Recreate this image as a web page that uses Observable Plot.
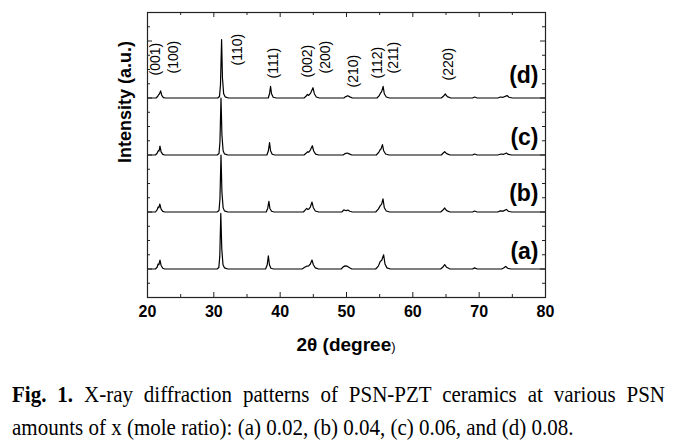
<!DOCTYPE html>
<html><head><meta charset="utf-8">
<script src="https://cdn.jsdelivr.net/npm/d3@7"></script>
<script src="https://cdn.jsdelivr.net/npm/@observablehq/plot@0.6"></script>
<style>
body{margin:0;background:#fff;width:677px;height:444px;overflow:hidden;position:relative;font-family:"Liberation Sans",Arial,sans-serif}
#chart{position:absolute;left:0;top:0}
#xtitle{position:absolute;left:346px;top:334px;transform:translateX(-50%);font-size:19px;line-height:22px;font-weight:bold;white-space:nowrap;color:#000}
#xtitle .s{font-size:13px;font-weight:normal}
.cap{position:absolute;left:12px;width:653px;font-family:"Liberation Serif","Times New Roman",serif;font-size:21px;line-height:29px;color:#000;white-space:nowrap;transform:scaleY(1.14);transform-origin:0 50%}
#cap1{top:380px;text-align:justify;text-align-last:justify;white-space:normal}
#cap2{top:413px}
</style></head><body>
<div id="chart"></div>
<div id="xtitle">2θ (degree<span class="s">)</span></div>
<div class="cap" id="cap1"><b>Fig. 1.</b> X-ray diffraction patterns of PSN-PZT ceramics at various PSN</div>
<div class="cap" id="cap2">amounts of x (mole ratio): (a) 0.02, (b) 0.04, (c) 0.06, and (d) 0.08.</div>
<script>
// Series names and vertical offsets (intensity units)
const seriesNames = ["(a)", "(b)", "(c)", "(d)"];
const seriesOffsets = [2, 6, 10, 14];
const seriesLabelY = [3.25, 7.3, 11.2, 15.55];
const seriesLabelX = 78.95;

// [2θ, relative intensity]
const patternA = [[20,0],[21.2,0],[21.45,0.12],[21.6,0.35],[21.72,0.3],[21.88,0.63],[22.05,0.25],[22.3,0.05],[22.6,0],
[30.5,0],[30.75,0.1],[30.9,0.9],[31.05,3.9],[31.2,1.4],[31.38,0.3],[31.6,0.08],[32.1,0],
[37.8,0],[38.05,0.3],[38.22,0.93],[38.38,0.3],[38.6,0.05],[39,0],
[43.3,0],[43.7,0.12],[44.0,0.2],[44.3,0.22],[44.55,0.35],[44.8,0.63],[45.0,0.3],[45.3,0.08],[45.8,0],
[49.2,0],[49.5,0.15],[49.8,0.22],[50.1,0.2],[50.4,0.1],[50.8,0],
[54.4,0],[54.8,0.2],[55.1,0.55],[55.3,0.6],[55.6,1.0],[55.8,0.35],[56.1,0.08],[56.6,0],
[64.2,0],[64.5,0.12],[64.8,0.3],[65.1,0.12],[65.6,0],
[69,0],[69.3,0.08],[69.7,0],
[73.4,0],[73.8,0.1],[74.0,0.18],[74.3,0.05],[74.8,0],[80,0]];

const patternB = [[20,0],[21.2,0],[21.45,0.15],[21.6,0.35],[21.72,0.3],[21.86,0.56],[22.05,0.2],[22.3,0.04],[22.6,0],
[30.5,0],[30.78,0.1],[30.92,0.9],[31.08,4.0],[31.22,1.4],[31.4,0.3],[31.6,0.08],[32.1,0],
[37.9,0],[38.12,0.25],[38.3,0.75],[38.45,0.25],[38.7,0.05],[39.1,0],
[43.5,0],[43.8,0.15],[44.0,0.25],[44.15,0.18],[44.3,0.2],[44.55,0.35],[44.8,0.7],[45.0,0.3],[45.3,0.07],[45.8,0],
[49.3,0],[49.6,0.15],[49.8,0.12],[50.0,0.1],[50.2,0.14],[50.5,0.05],[50.9,0],
[54.4,0],[54.8,0.2],[55.1,0.45],[55.3,0.55],[55.5,0.92],[55.7,0.3],[56.0,0.07],[56.5,0],
[64.2,0],[64.5,0.12],[64.8,0.28],[65.1,0.1],[65.6,0],
[69,0],[69.3,0.07],[69.7,0],
[72.8,0],[73.2,0.08],[73.6,0.06],[74.1,0.18],[74.4,0.05],[74.9,0],[80,0]];

const patternC = [[20,0],[21.2,0],[21.45,0.12],[21.62,0.3],[21.74,0.28],[21.88,0.63],[22.05,0.22],[22.3,0.04],[22.6,0],
[30.5,0],[30.78,0.1],[30.92,0.9],[31.08,4.0],[31.22,1.4],[31.4,0.3],[31.6,0.08],[32.1,0],
[38.0,0],[38.22,0.3],[38.4,0.87],[38.55,0.3],[38.8,0.05],[39.2,0],
[43.6,0],[43.9,0.12],[44.1,0.22],[44.3,0.2],[44.55,0.35],[44.85,0.65],[45.05,0.28],[45.35,0.06],[45.8,0],
[49.5,0],[49.8,0.1],[50.1,0.14],[50.4,0.08],[50.8,0],
[54.5,0],[54.85,0.18],[55.05,0.35],[55.2,0.42],[55.42,0.73],[55.6,0.3],[55.9,0.07],[56.4,0],
[64.3,0],[64.55,0.12],[64.8,0.23],[65.1,0.1],[65.6,0],
[69,0],[69.3,0.07],[69.7,0],
[72.8,0],[73.3,0.07],[73.7,0.05],[74.1,0.14],[74.4,0.04],[74.9,0],[80,0]];

const patternD = [[20,0],[21.3,0],[21.55,0.12],[21.7,0.25],[21.8,0.28],[21.98,0.5],[22.15,0.18],[22.4,0.03],[22.7,0],
[30.6,0],[30.85,0.1],[31.0,0.9],[31.17,4.1],[31.3,1.4],[31.48,0.3],[31.7,0.08],[32.2,0],
[38.2,0],[38.4,0.3],[38.55,0.82],[38.7,0.3],[38.95,0.05],[39.4,0],
[43.6,0],[43.9,0.12],[44.1,0.25],[44.3,0.18],[44.6,0.35],[44.95,0.72],[45.15,0.3],[45.45,0.07],[45.9,0],
[49.6,0],[49.9,0.1],[50.2,0.16],[50.5,0.08],[50.9,0],
[54.6,0],[54.9,0.15],[55.1,0.32],[55.3,0.45],[55.52,0.82],[55.7,0.3],[56.0,0.07],[56.5,0],
[64.3,0],[64.6,0.12],[64.9,0.28],[65.2,0.1],[65.7,0],
[69,0],[69.3,0.07],[69.7,0],
[72.8,0],[73.2,0.07],[73.6,0.05],[74.2,0.17],[74.5,0.05],[75,0],[80,0]];

// Miller index labels above pattern (d)
const hklLabels = ["(001)","(100)","(110)","(111)","(002)","(200)","(210)","(112)","(211)","(220)"];
const hklX = [21.2, 23.9, 33.6, 39.0, 44.1, 46.8, 51.1, 54.7, 57.1, 65.4];
const hklY = [15.58, 15.72, 16.28, 15.37, 15.44, 15.72, 14.74, 15.37, 15.72, 15.23];

// Axis ticks
const xTicks = [20, 30, 40, 50, 60, 70, 80];
const xMinor = [25, 35, 45, 55, 65, 75];
const yMajor = [2, 6, 10, 14, 18];
const yMinor = d3.range(0, 21).filter(v => !yMajor.includes(v));

const patterns = [patternA, patternB, patternC, patternD];
const rows = patterns.flatMap((p, i) => p.map(([t, v]) => ({series: seriesNames[i], t, v: v + seriesOffsets[i]})));
const hkl = hklLabels.map((l, i) => ({l, x: hklX[i], y: hklY[i]}));
const sLabels = seriesNames.map((n, i) => ({n, x: seriesLabelX, y: seriesLabelY[i]}));

const W = 677, H = 362, mL = 147, mR = 132, mT = 12, mB = 65;
const fw = W - mL - mR, fh = H - mT - mB;
const tickStyle = {stroke: "#222", strokeWidth: 1};

const chart = Plot.plot({
  width: W, height: H,
  marginLeft: mL, marginRight: mR, marginTop: mT, marginBottom: mB,
  style: {fontFamily: "'Liberation Sans', Arial, sans-serif", background: "#fff", color: "#000"},
  x: {domain: [20, 80]},
  y: {domain: [0, 20], axis: null},
  marks: [
    Plot.line(rows, {x: "t", y: "v", z: "series", stroke: "#000", strokeWidth: 1.2}),
    Plot.frame({stroke: "#222", strokeWidth: 1.2}),
    Plot.axisX({anchor: "bottom", ticks: xTicks, tickSize: 0, tickPadding: 8, label: null, fontSize: 16, fontWeight: "bold"}),
    // inward ticks on all four sides
    Plot.tickX(xTicks, {x: d => d, insetTop: fh - 5, ...tickStyle}),
    Plot.tickX(xMinor, {x: d => d, insetTop: fh - 3, ...tickStyle}),
    Plot.tickX(xTicks, {x: d => d, insetBottom: fh - 5, ...tickStyle}),
    Plot.tickX(xMinor, {x: d => d, insetBottom: fh - 3, ...tickStyle}),
    Plot.tickY(yMajor, {y: d => d, insetRight: fw - 5, ...tickStyle}),
    Plot.tickY(yMinor, {y: d => d, insetRight: fw - 3, ...tickStyle}),
    Plot.tickY(yMajor, {y: d => d, insetLeft: fw - 5, ...tickStyle}),
    Plot.tickY(yMinor, {y: d => d, insetLeft: fw - 3, ...tickStyle}),
    Plot.text(["Intensity (a.u.)"], {frameAnchor: "left", dx: -22, dy: 8, rotate: -90, fontSize: 18, fontWeight: "bold", fill: "#000"}),
    Plot.text(hkl, {x: "x", y: "y", text: "l", rotate: -90, textAnchor: "start", lineAnchor: "middle", fontSize: 14, fill: "#000"}),
    Plot.text(sLabels, {x: "x", y: "y", text: "n", textAnchor: "end", lineAnchor: "middle", fontSize: 23, fontWeight: "bold", fill: "#000"})
  ]
});
document.getElementById("chart").appendChild(chart);
</script>
</body></html>
